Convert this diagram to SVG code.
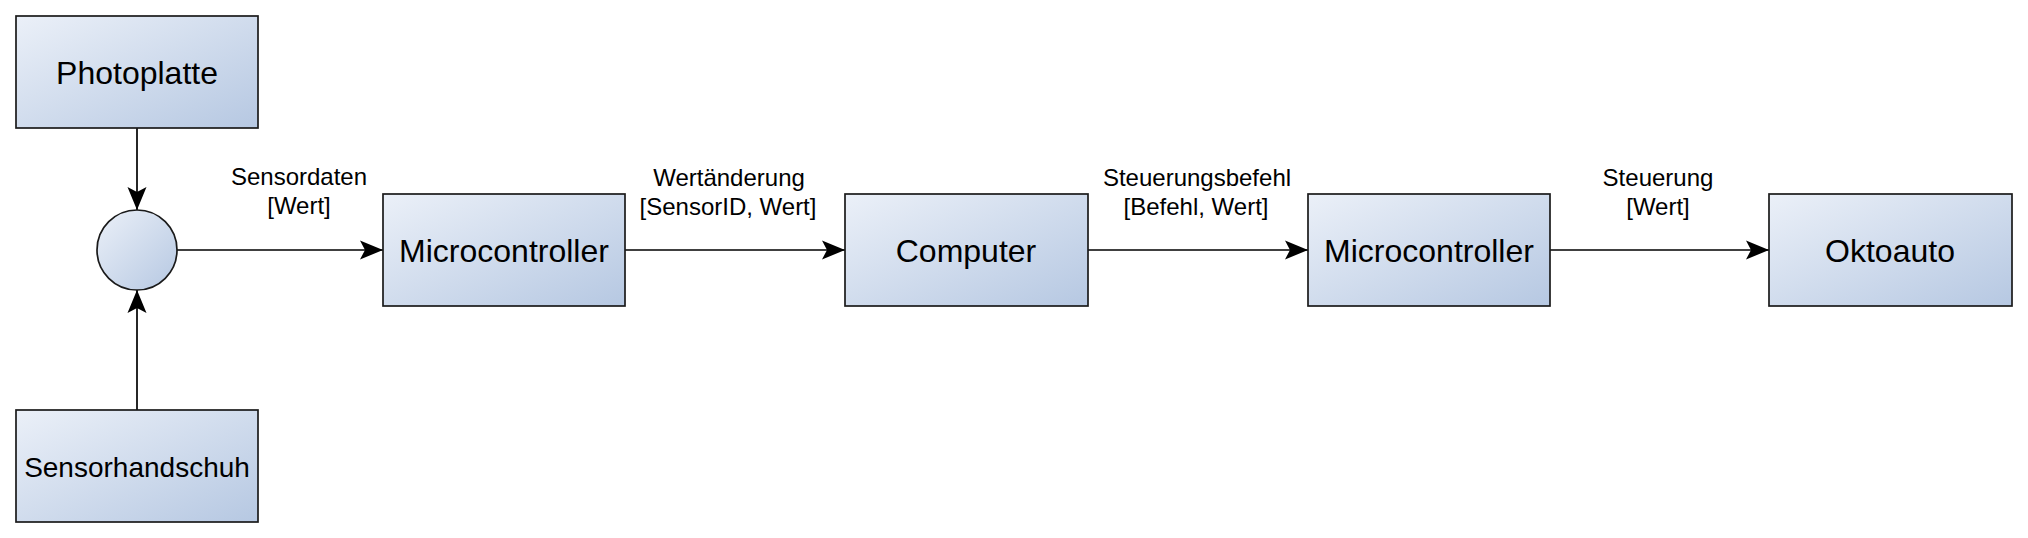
<svg xmlns="http://www.w3.org/2000/svg" width="2028" height="538" viewBox="0 0 2028 538">
<defs>
<linearGradient id="g" x1="0" y1="0" x2="1" y2="1">
<stop offset="0" stop-color="#ebf0f8"/>
<stop offset="1" stop-color="#b6c8e2"/>
</linearGradient>
<marker id="arr" markerUnits="userSpaceOnUse" markerWidth="26" markerHeight="22" viewBox="0 0 26 22" refX="24" refY="11" orient="auto">
<path d="M24,11 L1,1.5 L6,11 L1,20.5 Z" fill="#000"/>
</marker>
<style>
.box{fill:url(#g);stroke:#1a1a1a;stroke-width:1.7}
.t{font-family:"Liberation Sans",Arial,sans-serif;font-size:32px;fill:#000;text-anchor:middle}
.t2{font-size:28px}
.lbl{font-family:"Liberation Sans",Arial,sans-serif;font-size:24px;fill:#000;text-anchor:middle}
.c{fill:none;stroke:#000;stroke-width:1.7;marker-end:url(#arr)}
</style>
</defs>
<rect width="2028" height="538" fill="#fff"/>
<g id="connectors">
<line class="c" x1="137" y1="128" x2="137" y2="210"/>
<line class="c" x1="137" y1="410" x2="137" y2="290"/>
<line class="c" x1="177" y1="250" x2="383" y2="250"/>
<line class="c" x1="625" y1="250" x2="845" y2="250"/>
<line class="c" x1="1088" y1="250" x2="1308" y2="250"/>
<line class="c" x1="1550" y1="250" x2="1769" y2="250"/>
<text class="lbl" x="299" y="185">Sensordaten</text>
<text class="lbl" x="299" y="214">[Wert]</text>
<text class="lbl" x="729" y="186">Wertänderung</text>
<text class="lbl" x="728" y="215">[SensorID, Wert]</text>
<text class="lbl" x="1197" y="186">Steuerungsbefehl</text>
<text class="lbl" x="1196" y="215">[Befehl, Wert]</text>
<text class="lbl" x="1658" y="186">Steuerung</text>
<text class="lbl" x="1658" y="215">[Wert]</text>
</g>
<g id="photoplatte">
<rect class="box" x="16" y="16" width="242" height="112"/>
<text class="t" x="137" y="84">Photoplatte</text>
</g>
<g id="sensorhandschuh">
<rect class="box" x="16" y="410" width="242" height="112"/>
<text class="t t2" x="137" y="476.5">Sensorhandschuh</text>
</g>
<g id="junction">
<circle class="box" cx="137" cy="250" r="40"/>
</g>
<g id="microcontroller1">
<rect class="box" x="383" y="194" width="242" height="112"/>
<text class="t" x="504" y="262">Microcontroller</text>
</g>
<g id="computer">
<rect class="box" x="845" y="194" width="243" height="112"/>
<text class="t" x="966" y="262">Computer</text>
</g>
<g id="microcontroller2">
<rect class="box" x="1308" y="194" width="242" height="112"/>
<text class="t" x="1429" y="262">Microcontroller</text>
</g>
<g id="oktoauto">
<rect class="box" x="1769" y="194" width="243" height="112"/>
<text class="t" x="1890" y="262">Oktoauto</text>
</g>
</svg>
